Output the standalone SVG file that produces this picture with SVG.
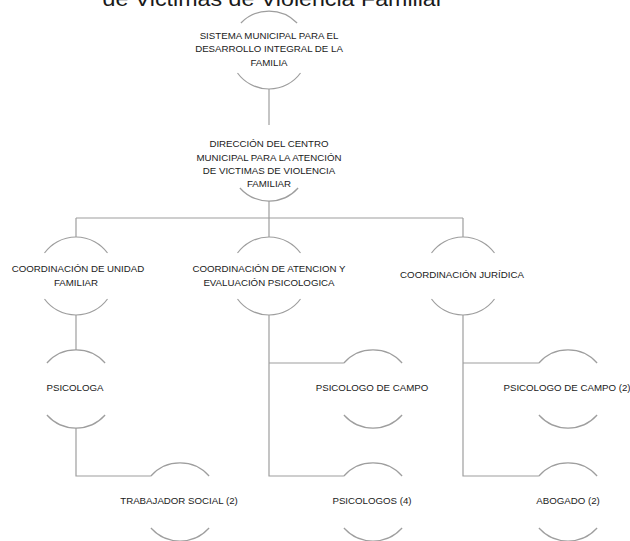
<svg xmlns="http://www.w3.org/2000/svg" width="630" height="541" viewBox="0 0 630 541">
<defs>
<style>
.bg{fill:#ffffff}
.ln{fill:none;stroke:#9e9e9e;stroke-width:1.2}
.arc{fill:none;stroke:#9e9e9e;stroke-width:1.2}
.t{font-family:"Liberation Sans",Arial,sans-serif;font-size:9.7px;fill:#1a1a1a;text-anchor:middle}
.title{font-family:"Liberation Sans",Arial,sans-serif;font-size:21px;fill:#1a1a1a;text-anchor:middle}
</style>
</defs>
<rect class="bg" x="0" y="0" width="630" height="541"/>
<text class="title" x="273" y="5.5" textLength="341" lengthAdjust="spacingAndGlyphs">de Victimas de Violencia Familiar</text>
<g id="connectors">
<path class="ln" d="M269,89 V125"/>
<path class="ln" d="M269,201 V218 M76,218 H463 M76,218 V237 M269,218 V237 M463,218 V237"/>
<path class="ln" d="M76,315 V350 M76,428 V476 H150.9"/>
<path class="ln" d="M269,315 V476 H343.9 M269,363 H343.9"/>
<path class="ln" d="M463,315 V476 H538.9 M463,363 H538.9"/>
</g>
<g id="n-sistema">
<path class="arc" d="M240.9,23 A39,39 0 0 1 297.1,23"/>
<path class="arc" d="M237.5,73 A39,39 0 0 0 300.5,73"/>
<text class="t" x="269" y="38.5">SISTEMA MUNICIPAL PARA EL</text>
<text class="t" x="269" y="52">DESARROLLO INTEGRAL DE LA</text>
<text class="t" x="269" y="65.5">FAMILIA</text>
</g>
<g id="n-direccion">
<path class="arc" d="M239.9,188 A39,39 0 0 0 298.1,188"/>
<text class="t" x="269" y="147">DIRECCIÓN DEL CENTRO</text>
<text class="t" x="269" y="160.5">MUNICIPAL PARA LA ATENCIÓN</text>
<text class="t" x="269" y="174">DE VICTIMAS DE VIOLENCIA</text>
<text class="t" x="269" y="187">FAMILIAR</text>
</g>
<g id="n-unidad">
<path class="arc" d="M44.5,253 A39,39 0 0 1 107.5,253"/>
<path class="arc" d="M44.5,299 A39,39 0 0 0 107.5,299"/>
<text class="t" x="78" y="271.5">COORDINACIÓN DE UNIDAD</text>
<text class="t" x="76" y="285.5">FAMILIAR</text>
</g>
<g id="n-atencion">
<path class="arc" d="M237.5,253 A39,39 0 0 1 300.5,253"/>
<path class="arc" d="M237.5,299 A39,39 0 0 0 300.5,299"/>
<text class="t" x="269" y="271.5">COORDINACIÓN DE ATENCION Y</text>
<text class="t" x="269" y="285.5">EVALUACIÓN PSICOLOGICA</text>
</g>
<g id="n-juridica">
<path class="arc" d="M431.5,253 A39,39 0 0 1 494.5,253"/>
<path class="arc" d="M431.5,299 A39,39 0 0 0 494.5,299"/>
<text class="t" x="462" y="277.5">COORDINACIÓN JURÍDICA</text>
</g>
<g id="n-psicologa">
<path class="arc" d="M46.9,363 A39,39 0 0 1 105.1,363"/>
<path class="arc" d="M46.9,415 A39,39 0 0 0 105.1,415"/>
<text class="t" x="75" y="390.5">PSICOLOGA</text>
</g>
<g id="n-campo1">
<path class="arc" d="M343.9,363 A39,39 0 0 1 402.1,363"/>
<path class="arc" d="M343.9,415 A39,39 0 0 0 402.1,415"/>
<text class="t" x="372" y="390.5">PSICOLOGO DE CAMPO</text>
</g>
<g id="n-campo2">
<path class="arc" d="M538.9,363 A39,39 0 0 1 597.1,363"/>
<path class="arc" d="M538.9,415 A39,39 0 0 0 597.1,415"/>
<text class="t" x="567" y="390.5">PSICOLOGO DE CAMPO (2)</text>
</g>
<g id="n-trabajador">
<path class="arc" d="M150.9,476 A39,39 0 0 1 209.1,476"/>
<path class="arc" d="M150.9,528 A39,39 0 0 0 209.1,528"/>
<text class="t" x="179" y="504">TRABAJADOR SOCIAL (2)</text>
</g>
<g id="n-psicologos">
<path class="arc" d="M343.9,476 A39,39 0 0 1 402.1,476"/>
<path class="arc" d="M343.9,528 A39,39 0 0 0 402.1,528"/>
<text class="t" x="372" y="504">PSICOLOGOS (4)</text>
</g>
<g id="n-abogado">
<path class="arc" d="M538.9,476 A39,39 0 0 1 597.1,476"/>
<path class="arc" d="M538.9,528 A39,39 0 0 0 597.1,528"/>
<text class="t" x="568" y="504">ABOGADO (2)</text>
</g>
</svg>
